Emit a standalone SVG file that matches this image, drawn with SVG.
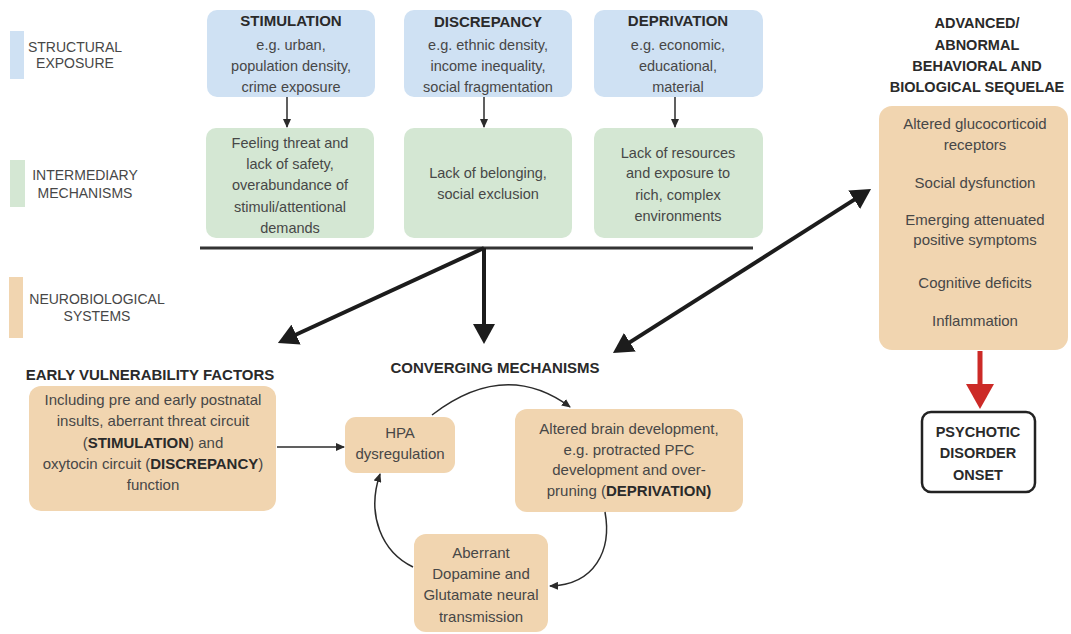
<svg xmlns="http://www.w3.org/2000/svg" width="1071" height="634" viewBox="0 0 1071 634">
<style>
text{font-family:"Liberation Sans",Arial,sans-serif;text-anchor:middle;fill:#474747}
.leg{font-size:14px}
.t{font-size:14.5px}
.m{font-size:15px}
.b{font-weight:bold;fill:#2a2a2a}
.blue{fill:#cfe1f3}
.green{fill:#d4e7d3}
.orange{fill:#f1d5b0}
.big{stroke:#1c1c1c;stroke-width:4;fill:none}
.thin{stroke:#2b2b2b;stroke-width:1.5;fill:none}
</style>
<defs>
<marker id="bigHead" viewBox="0 0 20 22" refX="10" refY="11" markerWidth="20" markerHeight="22" markerUnits="userSpaceOnUse" orient="auto-start-reverse">
<path d="M0,0 L20,11 L0,22 z" fill="#1c1c1c"/>
</marker>
<marker id="redHead" viewBox="0 0 25 28" refX="12" refY="14" markerWidth="25" markerHeight="28" markerUnits="userSpaceOnUse" orient="auto">
<path d="M0,0 L25,14 L0,28 z" fill="#cc2a27"/>
</marker>
<marker id="smallHead" viewBox="0 0 9 8" refX="8" refY="4" markerWidth="9" markerHeight="8" markerUnits="userSpaceOnUse" orient="auto">
<path d="M0,0 L9,4 L0,8 z" fill="#2b2b2b"/>
</marker>
</defs>

<g id="legend">
<rect class="blue" x="10" y="31" width="14" height="48"/>
<text class="leg" x="75" y="52">STRUCTURAL</text>
<text class="leg" x="75" y="68">EXPOSURE</text>
<rect class="green" x="10" y="160" width="15" height="47"/>
<text class="leg" x="85" y="180">INTERMEDIARY</text>
<text class="leg" x="85" y="198">MECHANISMS</text>
<rect class="orange" x="9" y="277" width="14" height="61"/>
<text class="leg" x="97" y="304">NEUROBIOLOGICAL</text>
<text class="leg" x="97" y="321">SYSTEMS</text>
</g>

<g id="stimulation">
<rect class="blue" x="207" y="10" width="168" height="87" rx="10"/>
<text class="b" x="291" y="26" font-size="15">STIMULATION</text>
<text class="t" x="291" y="50">e.g. urban,</text>
<text class="t" x="291" y="71">population density,</text>
<text class="t" x="291" y="92">crime exposure</text>
</g>
<g id="discrepancy">
<rect class="blue" x="404" y="10" width="168" height="87" rx="10"/>
<text class="b" x="488" y="27" font-size="15">DISCREPANCY</text>
<text class="t" x="488" y="50">e.g. ethnic density,</text>
<text class="t" x="488" y="71">income inequality,</text>
<text class="t" x="488" y="92">social fragmentation</text>
</g>
<g id="deprivation">
<rect class="blue" x="594" y="10" width="169" height="87" rx="10"/>
<text class="b" x="678" y="26" font-size="15">DEPRIVATION</text>
<text class="t" x="678" y="50">e.g. economic,</text>
<text class="t" x="678" y="71">educational,</text>
<text class="t" x="678" y="92">material</text>
</g>

<g id="threat">
<rect class="green" x="206" y="128" width="168" height="110" rx="10"/>
<text class="t" x="290" y="148">Feeling threat and</text>
<text class="t" x="290" y="169">lack of safety,</text>
<text class="t" x="290" y="190">overabundance of</text>
<text class="t" x="290" y="212">stimuli/attentional</text>
<text class="t" x="290" y="233">demands</text>
</g>
<g id="belonging">
<rect class="green" x="404" y="128" width="168" height="110" rx="10"/>
<text class="t" x="488" y="178">Lack of belonging,</text>
<text class="t" x="488" y="199">social exclusion</text>
</g>
<g id="resources">
<rect class="green" x="594" y="128" width="169" height="110" rx="10"/>
<text class="t" x="678" y="158">Lack of resources</text>
<text class="t" x="678" y="178">and exposure to</text>
<text class="t" x="678" y="200">rich, complex</text>
<text class="t" x="678" y="221">environments</text>
</g>

<g id="sequelae">
<text class="b" x="977" y="28" font-size="14.5">ADVANCED/</text>
<text class="b" x="977" y="50" font-size="14.5">ABNORMAL</text>
<text class="b" x="977" y="71" font-size="14.5">BEHAVIORAL AND</text>
<text class="b" x="977" y="92" font-size="14.5">BIOLOGICAL SEQUELAE</text>
<rect class="orange" x="879" y="106" width="189" height="244" rx="13"/>
<text class="m" x="975" y="129">Altered glucocorticoid</text>
<text class="m" x="975" y="150">receptors</text>
<text class="m" x="975" y="188">Social dysfunction</text>
<text class="m" x="975" y="225">Emerging attenuated</text>
<text class="m" x="975" y="245">positive symptoms</text>
<text class="m" x="975" y="288">Cognitive deficits</text>
<text class="m" x="975" y="326">Inflammation</text>
</g>

<g id="onset">
<rect x="922" y="412" width="113" height="80" rx="9" fill="#fff" stroke="#222" stroke-width="2.5"/>
<text class="b" x="978" y="437" font-size="14.5">PSYCHOTIC</text>
<text class="b" x="978" y="458" font-size="14.5">DISORDER</text>
<text class="b" x="978" y="480" font-size="14.5">ONSET</text>
</g>

<g id="early">
<text class="b" x="150" y="380" font-size="15">EARLY VULNERABILITY FACTORS</text>
<rect class="orange" x="29" y="386" width="247" height="125" rx="12"/>
<text class="m" x="153" y="405">Including pre and early postnatal</text>
<text class="m" x="153" y="426">insults, aberrant threat circuit</text>
<text class="m" x="153" y="448">(<tspan class="b">STIMULATION</tspan>) and</text>
<text class="m" x="153" y="469">oxytocin circuit (<tspan class="b">DISCREPANCY</tspan>)</text>
<text class="m" x="153" y="490">function</text>
</g>

<text class="b" x="495" y="373" font-size="15">CONVERGING MECHANISMS</text>

<g id="hpa">
<rect class="orange" x="345" y="417" width="110" height="56" rx="11"/>
<text class="m" x="400" y="438">HPA</text>
<text class="m" x="400" y="459">dysregulation</text>
</g>
<g id="brain">
<rect class="orange" x="515" y="409" width="228" height="103" rx="12"/>
<text class="m" x="629" y="434">Altered brain development,</text>
<text class="m" x="629" y="455">e.g. protracted PFC</text>
<text class="m" x="629" y="475">development and over-</text>
<text class="m" x="629" y="496">pruning (<tspan class="b">DEPRIVATION)</tspan></text>
</g>
<g id="dopamine">
<rect class="orange" x="414" y="534" width="134" height="98" rx="12"/>
<text class="m" x="481" y="558">Aberrant</text>
<text class="m" x="481" y="579">Dopamine and</text>
<text class="m" x="481" y="600">Glutamate neural</text>
<text class="m" x="481" y="622">transmission</text>
</g>

<g id="connectors">
<line x1="287" y1="97" x2="287" y2="127" class="thin" marker-end="url(#smallHead)"/>
<line x1="484" y1="97" x2="484" y2="127" class="thin" marker-end="url(#smallHead)"/>
<line x1="675" y1="97" x2="675" y2="127" class="thin" marker-end="url(#smallHead)"/>
<line x1="200" y1="248" x2="753" y2="248" stroke="#333" stroke-width="3"/>
<line x1="484" y1="248" x2="287" y2="338.8" class="big" marker-end="url(#bigHead)"/>
<line x1="484" y1="248" x2="484" y2="334" class="big" marker-end="url(#bigHead)"/>
<line x1="621.4" y1="347.6" x2="862.6" y2="194.4" class="big" marker-start="url(#bigHead)" marker-end="url(#bigHead)"/>
<line x1="980" y1="351" x2="980" y2="396" stroke="#cc2a27" stroke-width="5" marker-end="url(#redHead)"/>
<line x1="277" y1="447" x2="344" y2="447" class="thin" marker-end="url(#smallHead)"/>
<path d="M432,415 Q505,359 570,407" class="thin" marker-end="url(#smallHead)"/>
<path d="M605,512 C612,550 595,585 550,586" class="thin" marker-end="url(#smallHead)"/>
<path d="M413,567 C382,552 366,515 380,474" class="thin" marker-end="url(#smallHead)"/>
</g>
</svg>
